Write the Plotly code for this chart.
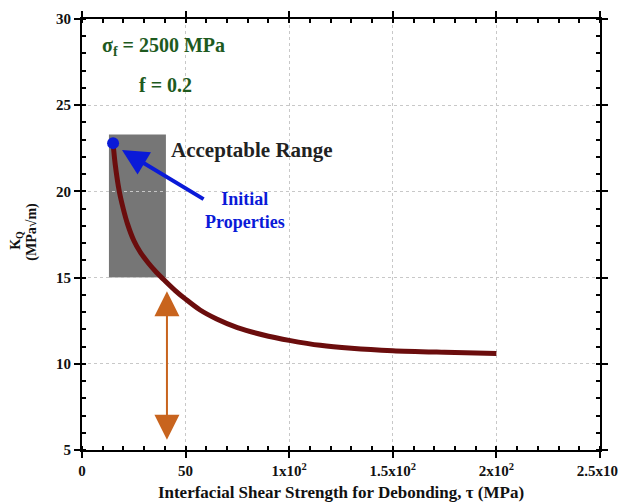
import plotly.graph_objects as go

tau = [15, 16, 18, 20, 22, 25, 28, 32, 36, 40, 45, 50, 57, 65, 75, 90, 100, 115, 130, 150, 175, 200]
kq = [22.8, 21.6, 20.0, 18.95, 18.1, 17.15, 16.5, 15.85, 15.3, 14.82, 14.25, 13.75, 13.12, 12.6,
      12.1, 11.6, 11.36, 11.07, 10.9, 10.76, 10.67, 10.6]

init_tau = [15]
init_kq = [22.8]

range_tau = [13.0, 40.5]
range_kq = [15.0, 23.3]

arrow_tau = 41
arrow_kq = [5.6, 14.3]

x_tickvals = [0, 50, 100, 150, 200, 250]
x_ticktext = ["0", "50", "1x10<sup>2</sup>", "1.5x10<sup>2</sup>", "2x10<sup>2</sup>", "2.5x10<sup>2</sup>"]
y_tickvals = [5, 10, 15, 20, 25, 30]

SERIF = "Liberation Serif"

fig = go.Figure()
fig.add_trace(go.Scatter(x=tau, y=kq, mode="lines",
                         line=dict(color="#6b0d0d", width=5, shape="spline", smoothing=0.8),
                         showlegend=False, hoverinfo="skip"))
fig.add_trace(go.Scatter(x=init_tau, y=init_kq, mode="markers",
                         marker=dict(color="#0a1ad8", size=12), showlegend=False))

fig.add_shape(type="rect", x0=range_tau[0], x1=range_tau[1], y0=range_kq[0], y1=range_kq[1],
              fillcolor="#767676", line=dict(width=0), layer="below")

axis_common = dict(showline=True, linecolor="black", linewidth=2, mirror="allticks",
                   ticks="outside", ticklen=6, tickwidth=1.5, tickcolor="black",
                   showgrid=True, gridcolor="#c8c8c8", griddash="dot", gridwidth=1,
                   zeroline=False, automargin=False,
                   tickfont=dict(family=SERIF, size=15, color="#111", weight="bold"))

fig.update_xaxes(range=[0, 250], tickvals=x_tickvals, ticktext=x_ticktext,
                 minor=dict(dtick=10, ticks="inside", ticklen=4, tickcolor="black", showgrid=False),
                 title=dict(text="Interfacial Shear Strength for Debonding, τ (MPa)",
                            font=dict(family=SERIF, size=17, color="#111", weight="bold"), standoff=8),
                 **axis_common)
fig.update_yaxes(range=[5, 30], tickvals=y_tickvals,
                 minor=dict(dtick=1, ticks="inside", ticklen=4, tickcolor="black", showgrid=False),
                 **axis_common)

# y axis title (two lines)
fig.add_annotation(xref="paper", yref="paper", x=-0.128, y=0.487, xanchor="center", yanchor="middle",
                   text="K<sub>Q</sub>", textangle=-90, showarrow=False,
                   font=dict(family=SERIF, size=14, color="#111", weight="bold"))
fig.add_annotation(xref="paper", yref="paper", x=-0.097, y=0.506, xanchor="center", yanchor="middle",
                   text="(MPa√m)", textangle=-90, showarrow=False,
                   font=dict(family=SERIF, size=14, color="#111", weight="bold"))

# labels
fig.add_annotation(x=8.5, y=28.4, xref="x", yref="y", xanchor="left", yanchor="middle",
                   text="σ<sub>f</sub> = 2500 MPa", showarrow=False,
                   font=dict(family=SERIF, size=20, color="#1e5a1e", weight="bold"))
fig.add_annotation(x=26.5, y=26.2, xref="x", yref="y", xanchor="left", yanchor="middle",
                   text="f = 0.2", showarrow=False,
                   font=dict(family=SERIF, size=20, color="#1e5a1e", weight="bold"))
fig.add_annotation(x=42, y=22.4, xref="x", yref="y", xanchor="left", yanchor="middle",
                   text="Acceptable Range", showarrow=False,
                   font=dict(family=SERIF, size=21, color="#222", weight="bold"))
fig.add_annotation(x=78.5, y=18.9, xref="x", yref="y", xanchor="center", yanchor="middle",
                   text="Initial<br>Properties", showarrow=False,
                   font=dict(family=SERIF, size=18, color="#0a1ad8", weight="bold"))

# blue arrow
fig.add_annotation(x=19.3, y=22.4, ax=59.4, ay=19.5, xref="x", yref="y", axref="x", ayref="y",
                   text="", showarrow=True, arrowhead=2, arrowsize=1.3, arrowwidth=4, arrowcolor="#0a1ad8")

# orange double arrow
fig.add_annotation(x=arrow_tau, y=arrow_kq[0], ax=arrow_tau, ay=arrow_kq[1], xref="x", yref="y",
                   axref="x", ayref="y", text="", showarrow=True, arrowhead=2, startarrowhead=2,
                   arrowside="end+start", arrowsize=2.5, startarrowsize=2.5, arrowwidth=2,
                   arrowcolor="#c8641e")

# the page adds an 8px body margin, so the margins are offset to land the plot where the reference has it
fig.update_layout(width=626, height=502, margin=dict(l=74, r=34, t=11, b=60),
                  plot_bgcolor="white", paper_bgcolor="white")

fig.write_html("out.html")
